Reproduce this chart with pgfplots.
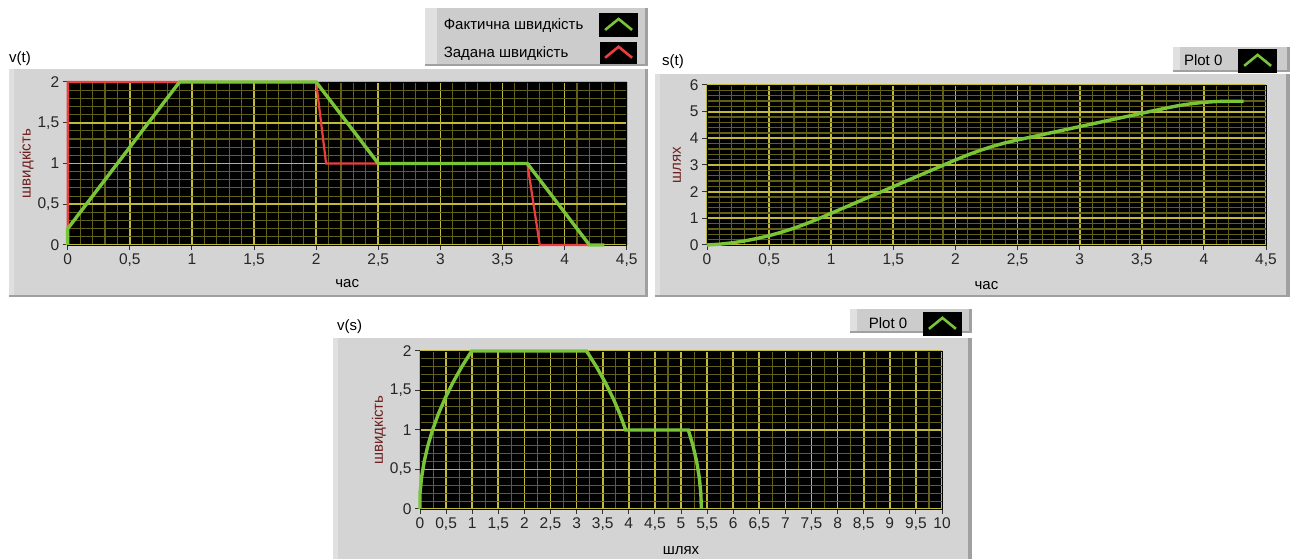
\documentclass[border=0pt]{standalone}
\usepackage{pgfplots}
\pgfplotsset{compat=1.18}
\usepackage{fontspec}
\setmainfont{Liberation Sans}
\definecolor{panel}{RGB}{212,212,212}
\definecolor{panellight}{RGB}{224,224,224}
\definecolor{paneldark}{RGB}{160,160,160}
\definecolor{legbg}{RGB}{204,204,204}
\definecolor{majgrid}{RGB}{192,186,56}
\definecolor{mingrid}{RGB}{98,96,24}
\definecolor{lvgreen}{RGB}{122,196,56}
\definecolor{lvred}{RGB}{236,62,62}
\definecolor{lblred}{RGB}{110,30,30}

\pgfplotsset{
  lvaxis/.style={
    scale only axis,
    axis background/.style={fill=black},
    axis line style={black, line width=0.8pt},
    grid=both,
    major grid style={majgrid, line width=1.7pt},
    minor grid style={mingrid, line width=1.1pt},
    tick align=outside,
    major tick length=5pt, minor tick length=0pt,
    xtick pos=lower, ytick pos=left,
    major tick style={black!80, line width=1pt},
    tick label style={font=\fontsize{15.5}{15.5}\selectfont, text=black!85},
    /pgf/number format/use comma,
    /pgf/number format/assume math mode=true,
    clip=false,
    legend plot pos=right,
    legend cell align=left,
    legend image code/.code={
      \fill[black] (0pt,-10pt) rectangle (35pt,10pt);
      \draw[##1, line width=2.6pt] (4pt,-5pt) -- (17.5pt,6pt) -- (31pt,-5pt);
    },
    legend style={draw=none, fill=none, inner sep=0pt, anchor=north east,
      font=\fontsize{15}{15}\selectfont, row sep=5pt, column sep=15pt,
      nodes={inner sep=1pt}},
    every axis x label/.style={at={(axis description cs:0.5,0)}, anchor=center, font=\fontsize{15}{15}\selectfont},
    every axis y label/.style={at={(axis description cs:0,0.5)}, anchor=center, rotate=90, font=\fontsize{15}{15}\selectfont, text=lblred},
  },
}

\begin{document}
\begin{tikzpicture}[x=1pt,y=1pt]
% canvas
\fill[white] (0,0) rectangle (1293,559);
% panels
\fill[panel] (9,262) rectangle (648,490);
\fill[panellight] (9,262) rectangle (14,490);
\fill[paneldark] (645,262) rectangle (648,490);
\fill[paneldark] (9,262) rectangle (648,264);
\fill[panel] (655,262) rectangle (1290,485);
\fill[panellight] (655,262) rectangle (660,485);
\fill[paneldark] (1286,262) rectangle (1290,485);
\fill[paneldark] (655,262) rectangle (1290,264);
\fill[panel] (333,0) rectangle (972,221);
\fill[panellight] (333,0) rectangle (338,221);
\fill[paneldark] (968,0) rectangle (972,221);
% legend boxes
\fill[legbg] (425,493) rectangle (648,551);
\fill[panellight] (425,493) rectangle (437,551);
\fill[paneldark] (425,493) rectangle (648,495);
\fill[paneldark] (645,493) rectangle (648,551);
\fill[legbg] (1173,487) rectangle (1290,512);
\fill[panellight] (1173,487) rectangle (1180,512);
\fill[paneldark] (1173,487) rectangle (1290,489);
\fill[paneldark] (1287,487) rectangle (1290,512);
\fill[legbg] (850,226) rectangle (972,250);
\fill[panellight] (850,226) rectangle (857,250);
\fill[paneldark] (850,226) rectangle (972,228);
\fill[paneldark] (969,226) rectangle (972,250);
% titles
\node[anchor=west, inner sep=0pt, font=\fontsize{15}{15}\selectfont] at (9,500) {v(t)};
\node[anchor=west, inner sep=0pt, font=\fontsize{15}{15}\selectfont] at (662,497) {s(t)};
\node[anchor=west, inner sep=0pt, font=\fontsize{15}{15}\selectfont] at (337,232) {v(s)};

% ---------- v(t)
\begin{axis}[lvaxis,
  at={(67.7pt,314pt)}, anchor=south west,
  width=559pt, height=163pt,
  xmin=0, xmax=4.5, ymin=0, ymax=2,
  xtick distance=0.5, ytick distance=0.5,
  minor x tick num=4, minor y tick num=4,
  xlabel={час}, ylabel={швидкість},
  xlabel style={yshift=-39pt}, ylabel style={xshift=0pt, yshift=41pt},
  reverse legend,
  legend style={at={(axis description cs:1.0202,1.423)}},
]
\addplot[lvred, line width=2.2pt] coordinates {
 (0,0) (0,2) (2,2) (2.08,1) (2.5,1) (3.7,1) (3.8,0) (4.2,0)};
\addlegendentry{Задана швидкість}
\addplot[lvgreen, line width=3.4pt] coordinates {
 (0,0) (0,0.2) (0.9,2) (2,2) (2.5,1) (3.7,1) (4.2,0) (4.32,0)};
\addlegendentry{Фактична швидкість}
\end{axis}

% ---------- s(t)
\begin{axis}[lvaxis,
  at={(707pt,314pt)}, anchor=south west,
  width=559pt, height=160pt,
  xmin=0, xmax=4.5, ymin=0, ymax=6,
  xtick distance=0.5, ytick distance=1,
  minor x tick num=4, minor y tick num=4,
  xlabel={час}, ylabel={шлях},
  xlabel style={yshift=-41pt}, ylabel style={yshift=30pt},
  legend style={at={(axis description cs:1.0197,1.225)}},
]
\addplot[lvgreen, line width=3.4pt] coordinates {
 (0,0) (0.1,0.03) (0.2,0.08) (0.3,0.15) (0.4,0.24) (0.5,0.35) (0.6,0.48)
 (0.7,0.63) (0.8,0.80) (0.9,0.99) (2.0,3.19) (2.1,3.38) (2.2,3.55) (2.3,3.70)
 (2.4,3.83) (2.5,3.94) (3.7,5.14) (3.8,5.23) (3.9,5.30) (4.0,5.35) (4.1,5.38)
 (4.2,5.39) (4.32,5.39)};
\addlegendentry{Plot 0}
\end{axis}

% ---------- v(s)
\begin{axis}[lvaxis,
  at={(420pt,50pt)}, anchor=south west,
  width=522pt, height=158pt,
  xmin=0, xmax=10, ymin=0, ymax=2,
  xtick distance=0.5, ytick distance=0.5,
  minor x tick num=1, minor y tick num=4,
  xlabel={шлях}, ylabel={швидкість},
  xlabel style={yshift=-42pt}, ylabel style={yshift=41pt},
  legend style={at={(axis description cs:1.038,1.247)}},
]
\addplot[lvgreen, line width=3.4pt] coordinates {
 (0,0) (0,0.2) (0.03,0.4) (0.08,0.6) (0.15,0.8) (0.24,1.0) (0.35,1.2)
 (0.48,1.4) (0.63,1.6) (0.80,1.8) (0.99,2.0) (3.19,2.0) (3.38,1.8) (3.55,1.6)
 (3.70,1.4) (3.83,1.2) (3.94,1.0) (5.14,1.0) (5.23,0.8) (5.30,0.6) (5.35,0.4)
 (5.38,0.2) (5.39,0)};
\addlegendentry{Plot 0}
\end{axis}
\end{tikzpicture}
\end{document}
